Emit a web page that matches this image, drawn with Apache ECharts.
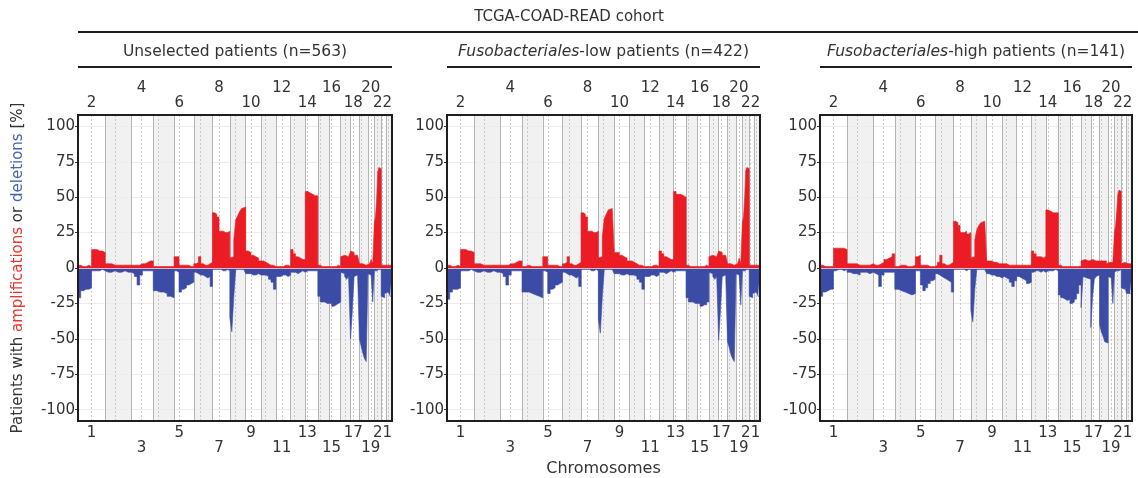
<!DOCTYPE html>
<html><head><meta charset="utf-8">
<script src="https://cdn.jsdelivr.net/npm/echarts@6/dist/echarts.min.js"></script>
<style>html,body{margin:0;padding:0;background:#fff}#c{width:1138px;height:478px}</style>
</head><body><div id="c"></div>
<script>
// ---------------- data ----------------
const chromosomes = ['1','2','3','4','5','6','7','8','9','10','11','12','13','14','15','16','17','18','19','20','21','22'];
const chromLengthMb = [249,243,198,191,181,171,159,146,141,136,135,134,115,107,103,90,81,78,59,63,48,51];
const centromereMb = [125,93,91,50,48,61,60,46,49,40,54,36,18,18,19,37,24,17,27,28,13,15];
const yTicks = [-100,-75,-50,-25,0,25,50,75,100];
const cohortTitle = 'TCGA-COAD-READ cohort';
const panelTitles = ['Unselected patients (n=563)', '{i|Fusobacteriales}-low patients (n=422)', '{i|Fusobacteriales}-high patients (n=141)'];

// values per chromosome, evenly spaced bins along each chromosome (% patients)
const unselectedAmp = [
  [2,1,1,2,1,13,13,12,12,11],[3,3,2,2,2,2,2,2],[2,2,2,3,3,4,5,5],[1,1,1,1,1,1],
  [8,8,2,2,2,2,1,1],[3,4,8,3,2,2,3,4],[39,38,36,26,26,25,25,26],[7,8,20,34,37,40,42,43],
  [12,11,9,8,7,5],[5,4,3,2,2,1],[1,1,1,2,2,1],[13,10,8,7,6,6],[54,53,52,51,51],
  [2,1,1,1,1],[1,1,1,2,1],[8,9,9,8,7],[12,11,9,9,8],[3,3,2,2,2],[3,4,6,3],
  [32,36,48,68,71,70],[2,2,2],[2,3,2]
];
const unselectedDel = [
  [-21,-16,-15,-15,-14,-2,-2,-2,-1,-2],[-3,-3,-2,-3,-3,-2,-3,-3],[-4,-6,-12,-5,-2,-2,-2,-2],[-16,-17,-17,-18,-20,-21],
  [-2,-3,-17,-15,-14,-12,-11,-10],[-3,-4,-5,-5,-6,-7,-6,-13],[-1,-1,-1,-1,-2,-2,-1,-2],[-35,-45,-20,-1,-1,-1,-1,-1],
  [-4,-4,-5,-5,-4,-5],[-5,-5,-6,-8,-10,-15],[-6,-6,-5,-5,-6,-5],[-3,-3,-4,-3,-2,-3],[-2,-2,-2,-2,-2],
  [-20,-24,-24,-25,-25],[-25,-27,-26,-25,-24],[-3,-4,-6,-8,-6],[-50,-30,-6,-5,-5],[-50,-55,-60,-64,-66],[-4,-5,-5,-24],
  [-2,-2,-1,-1,-1,-1],[-20,-21,-18],[-17,-18,-20]
];
const fusoLowAmp = [
  [2,1,1,2,1,13,13,12,12,11],[3,3,2,2,2,2,2,2],[2,2,2,3,3,4,5,5],[1,2,1,1,1,1],
  [8,8,2,2,2,2,1,1],[3,4,8,3,2,2,3,4],[39,38,36,26,26,25,25,26],[7,8,22,35,38,41,42,43],
  [11,11,9,8,7,5],[5,4,3,2,2,1],[1,1,1,2,2,1],[12,10,8,7,6,6],[54,52,52,51,50],
  [2,1,1,1,1],[1,1,1,2,1],[8,9,9,8,7],[12,11,9,9,8],[3,3,2,2,2],[3,4,7,3],
  [32,36,50,69,71,70],[2,2,2],[2,3,2]
];
const fusoLowDel = [
  [-22,-17,-15,-15,-14,-2,-2,-2,-1,-2],[-3,-3,-2,-3,-3,-2,-3,-3],[-4,-6,-12,-5,-2,-2,-2,-2],[-17,-17,-18,-19,-20,-21],
  [-2,-3,-18,-15,-14,-12,-11,-10],[-3,-4,-5,-5,-6,-7,-6,-13],[-1,-1,-1,-1,-2,-2,-1,-2],[-36,-46,-20,-1,-1,-1,-1,-1],
  [-4,-4,-5,-5,-4,-5],[-5,-5,-6,-8,-10,-15],[-6,-6,-5,-5,-6,-5],[-3,-3,-4,-3,-2,-3],[-2,-2,-2,-2,-2],
  [-21,-24,-24,-25,-25],[-25,-27,-26,-26,-24],[-3,-4,-6,-8,-6],[-51,-30,-6,-5,-5],[-52,-56,-61,-64,-66],[-4,-5,-5,-26],
  [-2,-2,-1,-1,-1,-1],[-20,-21,-18],[-17,-18,-20]
];
const fusoHighAmp = [
  [2,1,1,1,1,14,14,14,14,13],[3,3,3,2,2,2,2,3],[2,2,3,4,6,7,8,10],[1,2,2,1,1,2],
  [8,9,2,2,2,1,1,1],[2,4,9,3,2,2,3,4],[33,32,30,25,25,26,24,25],[7,8,20,27,30,32,33,34],
  [5,5,4,4,3,3],[3,3,2,2,2,2],[2,2,2,2,2,2],[12,10,8,8,7,8],[41,40,39,39,39],
  [2,1,1,1,1],[1,1,1,1,1],[5,6,5,5,4],[6,7,5,4,5],[6,5,4,5,3],[4,5,4,5],
  [25,30,40,52,55,54],[3,4,3],[3,4,3]
];
const fusoHighDel = [
  [-20,-17,-16,-15,-15,-2,-1,-1,-2,-1],[-3,-4,-4,-5,-3,-3,-4,-3],[-4,-5,-13,-5,-3,-3,-3,-3],[-15,-16,-17,-18,-19,-18],
  [-2,-2,-12,-16,-14,-11,-9,-8],[-4,-5,-6,-7,-8,-9,-10,-17],[-1,-1,-1,-1,-1,-2,-1,-1],[-30,-38,-15,-1,-1,-1,-1,-2],
  [-4,-5,-5,-6,-6,-7],[-6,-7,-8,-10,-13,-9],[-6,-7,-8,-9,-11,-10],[-3,-2,-2,-3,-2,-3],[-2,-2,-2,-1,-2],
  [-19,-21,-22,-23,-22],[-25,-24,-22,-18,-12],[-28,-6,-7,-7,-8],[-42,-20,-8,-6,-5],[-40,-45,-48,-52,-53],[-6,-7,-8,-25],
  [-3,-2,-2,-2,-1,-1],[-14,-15,-13],[-18,-18,-19]
];

// ---------------- build ----------------
const FONT = 'DejaVu Sans';
const TXT = '#333';
const RED = '#ec1c24';
const BLUE = '#3b4ba6';
const starts = [];
let acc = 0;
chromLengthMb.forEach(l => { starts.push(acc); acc += l; });
const genomeLen = acc;

function stepData(perChrom) {
  const pts = [];
  perChrom.forEach((vals, c) => {
    const s = starts[c], L = chromLengthMb[c], w = L / vals.length;
    vals.forEach((v, i) => pts.push([s + i * w, v]));
    pts.push([s + L, vals[vals.length - 1]]);
  });
  return pts;
}

// label positions: centromeres of odd chromosomes; two staggered rows on each side
const rowPos = [[], []], bottomMap = {}, topMap = {};
for (let c = 0; c < 22; c += 2) {
  const p = starts[c] + centromereMb[c];
  const row = (c / 2) % 2;
  rowPos[row].push(p);
  const k = p.toFixed(3);
  bottomMap[k] = chromosomes[c];
  topMap[k] = chromosomes[c + 1];
}

const gridDefs = [
  {left: 78, width: 314},
  {left: 447, width: 313},
  {left: 820, width: 312}
];
const panelData = [
  [unselectedAmp, unselectedDel],
  [fusoLowAmp, fusoLowDel],
  [fusoHighAmp, fusoHighDel]
];

const grids = [], xAxes = [], yAxes = [], series = [], graphics = [];
const labelStyle = {fontFamily: FONT, fontSize: 15, color: TXT};

function labelAxis(gi, position, row, map, extra) {
  return Object.assign({gridIndex: gi, type: 'value', position: position, offset: row * 15,
    min: 0, max: genomeLen,
    axisLine: {show: false}, axisTick: {show: false}, splitLine: {show: false},
    axisLabel: Object.assign({customValues: rowPos[row], margin: position === 'bottom' ? 5 : 4,
      hideOverlap: false, showMinLabel: true, showMaxLabel: true,
      formatter: v => map[v.toFixed(3)] || ''}, labelStyle)}, extra || {});
}

gridDefs.forEach((g, gi) => {
  grids.push({left: g.left, width: g.width, top: 115, height: 306, show: true, z: 10,
    borderColor: '#1e1e1e', borderWidth: 2, backgroundColor: 'transparent',
    containLabel: false, outerBoundsMode: 'none'});
  const base = xAxes.length;
  xAxes.push(labelAxis(gi, 'bottom', 0, bottomMap, gi === 1 ? {
    name: 'Chromosomes', nameLocation: 'middle', nameGap: 40,
    nameTextStyle: {fontFamily: FONT, fontSize: 16, color: TXT}} : {}));
  xAxes.push(labelAxis(gi, 'bottom', 1, bottomMap));
  xAxes.push(labelAxis(gi, 'top', 0, topMap));
  xAxes.push(labelAxis(gi, 'top', 1, topMap));
  yAxes.push({gridIndex: gi, type: 'value', min: -108, max: 108,
    axisLine: {show: false}, splitLine: {show: false},
    axisTick: {show: true, customValues: yTicks, length: 3, lineStyle: {color: '#333'}},
    axisLabel: {customValues: yTicks, margin: 3, fontFamily: FONT, fontSize: 15, color: TXT,
      showMinLabel: true, showMaxLabel: true},
    name: gi === 0 ? 'Patients with {r|amplifications} or {b|deletions} [%]' : '',
    nameLocation: 'middle', nameRotate: 90, nameGap: 52,
    nameTextStyle: {fontFamily: FONT, fontSize: 15, color: TXT,
      rich: {r: {color: '#e5362f', fontFamily: FONT, fontSize: 15}, b: {color: '#4763ad', fontFamily: FONT, fontSize: 15}}}
  });

  // background: even-chromosome shading, boundaries, centromeres, horizontal grid
  const areas = [], lines = [];
  for (let c = 1; c < 22; c += 2) areas.push([{xAxis: starts[c]}, {xAxis: starts[c] + chromLengthMb[c]}]);
  yTicks.forEach(v => { if (v !== 0) lines.push({yAxis: v, lineStyle: {color: '#ececec', type: 'solid', width: 1}}); });
  for (let c = 1; c < 22; c++) lines.push({xAxis: starts[c], lineStyle: {color: '#b4b4b4', type: 'solid', width: 1}});
  for (let c = 0; c < 22; c++) lines.push({xAxis: starts[c] + centromereMb[c], lineStyle: {color: '#c8c8c8', type: [2, 2], width: 1}});
  series.push({type: 'line', xAxisIndex: base, yAxisIndex: gi, z: 1, silent: true,
    data: [[0, 0]], showSymbol: false, lineStyle: {opacity: 0},
    markArea: {silent: true, z: 1, itemStyle: {color: '#f1f1f1'}, data: areas},
    markLine: {silent: true, z: 1, symbol: 'none', label: {show: false}, data: lines}
  });

  const [amp, del] = panelData[gi];
  series.push({type: 'line', xAxisIndex: base, yAxisIndex: gi, z: 3, step: 'end', showSymbol: false,
    data: stepData(amp), lineStyle: {color: RED, width: 0.6}, areaStyle: {color: RED, opacity: 1}});
  series.push({type: 'line', xAxisIndex: base, yAxisIndex: gi, z: 3, step: 'end', showSymbol: false,
    data: stepData(del), lineStyle: {color: BLUE, width: 0.6}, areaStyle: {color: BLUE, opacity: 1},
    markLine: {silent: true, symbol: 'none', label: {show: false}, z: 6,
      data: [{yAxis: 0, lineStyle: {color: '#d6bccb', type: 'solid', width: 1}}]}});

  // panel subtitle and its rule
  graphics.push({type: 'text', x: g.left + g.width / 2, y: 52, style: {
    text: panelTitles[gi], fontFamily: FONT, fontSize: 15.5, fill: TXT, align: 'center', verticalAlign: 'middle',
    rich: {i: {fontStyle: 'italic', fontFamily: FONT, fontSize: 15.5, fill: TXT}}}});
  graphics.push({type: 'line', shape: {x1: g.left, y1: 67, x2: g.left + g.width, y2: 67},
    style: {stroke: '#1e1e1e', lineWidth: 2}});
});

graphics.push({type: 'text', x: 569, y: 17, style: {text: cohortTitle, fontFamily: FONT, fontSize: 15,
  fill: TXT, align: 'center', verticalAlign: 'middle'}});
graphics.push({type: 'line', shape: {x1: 78, y1: 32, x2: 1138, y2: 32}, style: {stroke: '#1e1e1e', lineWidth: 2}});

const chart = echarts.init(document.getElementById('c'), null, {renderer: 'canvas'});
chart.setOption({
  animation: false,
  backgroundColor: '#fff',
  grid: grids, xAxis: xAxes, yAxis: yAxes, series: series, graphic: graphics
});
</script></body></html>
